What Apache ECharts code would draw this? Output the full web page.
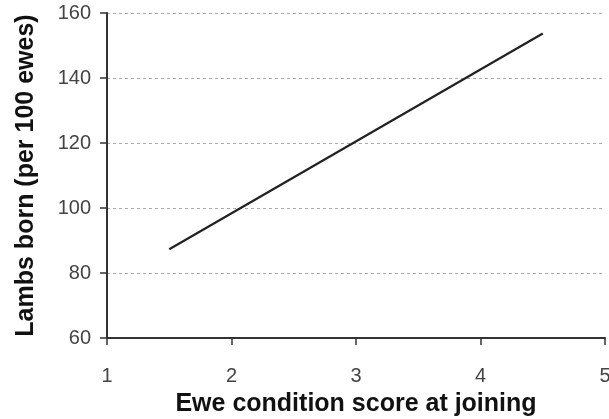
<!DOCTYPE html>
<html><head><meta charset="utf-8">
<script src="https://cdn.jsdelivr.net/npm/echarts@6/dist/echarts.min.js"></script>
<style>html,body{margin:0;padding:0;background:#fff}#c{width:609px;height:419px}</style>
</head><body><div id="c"></div>
<script>
const scoreX = [1.5, 4.5];
const lambsY = [87.3, 153.7];
const xTicks = [1, 2, 3, 4, 5];
const yTicks = [60, 80, 100, 120, 140, 160];

const chart = echarts.init(document.getElementById('c'), null, {renderer: 'canvas'});
chart.setOption({
  animation: false,
  backgroundColor: '#fff',
  grid: {left: 107, right: 4, top: 13, bottom: 81, containLabel: false, outerBoundsMode: 'none'},
  xAxis: {
    type: 'value', min: xTicks[0], max: xTicks[xTicks.length - 1], interval: 1,
    name: 'Ewe condition score at joining', nameLocation: 'middle', nameGap: 54,
    nameTextStyle: {fontFamily: 'Liberation Sans', fontSize: 25, fontWeight: 'bold', color: '#111'},
    axisLine: {lineStyle: {color: '#333', width: 2}},
    axisTick: {show: true, length: 7, lineStyle: {color: '#333', width: 1.5}},
    axisLabel: {margin: 28, fontFamily: 'Liberation Sans', fontSize: 20, color: '#444'},
    splitLine: {show: false}
  },
  yAxis: {
    type: 'value', min: yTicks[0], max: yTicks[yTicks.length - 1], interval: 20,
    name: 'Lambs born (per 100 ewes)', nameLocation: 'middle', nameGap: 68, nameRotate: 90,
    nameTextStyle: {fontFamily: 'Liberation Sans', fontSize: 25, fontWeight: 'bold', color: '#111'},
    axisLine: {show: true, lineStyle: {color: '#333', width: 2}},
    axisTick: {show: true, length: 7, lineStyle: {color: '#333', width: 1.5}},
    axisLabel: {margin: 16, fontFamily: 'Liberation Sans', fontSize: 20, color: '#444'},
    splitLine: {show: true, lineStyle: {color: '#aaa', type: [3, 3], width: 1}}
  },
  series: [{
    type: 'line', data: scoreX.map((x, i) => [x, lambsY[i]]),
    symbol: 'none', lineStyle: {color: '#222', width: 2.2}
  }]
});
</script></body></html>
